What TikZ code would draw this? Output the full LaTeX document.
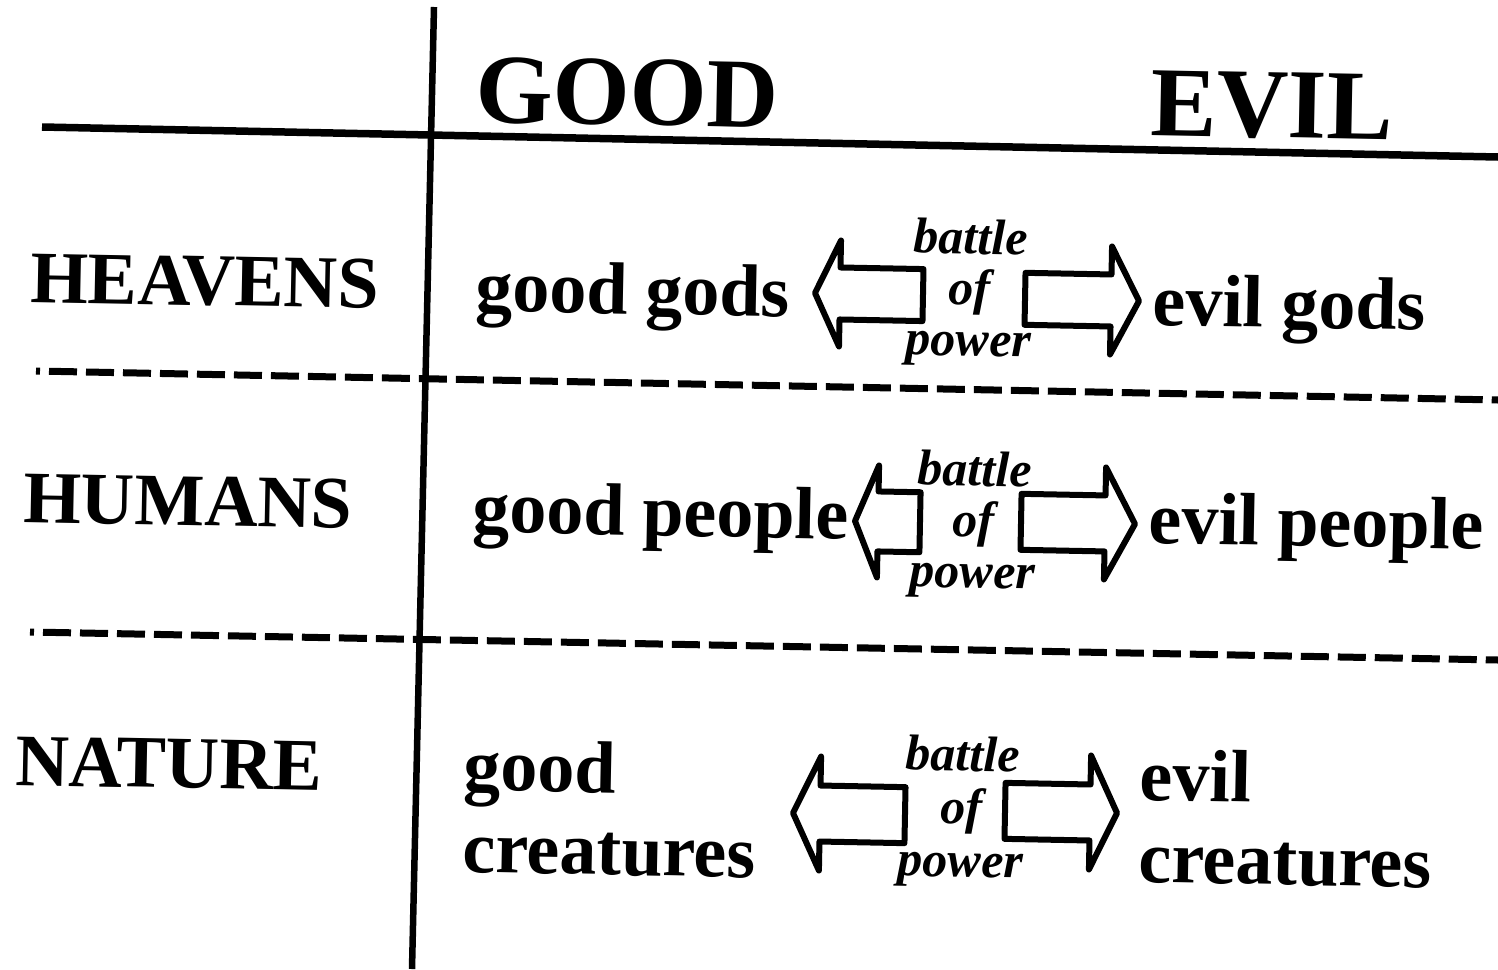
\documentclass[tikz,border=0pt]{standalone}
\usepackage{fontspec}
\setmainfont{Liberation Serif}
\tikzset{
  header/.style={font=\fontsize{99}{99}\selectfont\bfseries, anchor=base west, inner sep=0pt, rotate=-1.1},
  realm/.style={font=\fontsize{74}{74}\selectfont\bfseries, anchor=base west, inner sep=0pt, rotate=-1.1},
  side/.style={font=\fontsize{74}{82}\selectfont\bfseries, anchor=base west, inner sep=0pt, align=left, rotate=-1.1},
  battle/.style={font=\fontsize{50}{51}\selectfont\bfseries\itshape, anchor=north, inner sep=0pt, align=center, rotate=-1.1},
  fatarrow/.style={line width=6pt, line join=round},
  rule/.style={line width=6.5pt},
  split/.style={line width=7pt, dash pattern=on 28pt off 9pt, dash phase=24pt}
}
\begin{document}
\begin{tikzpicture}[x=1pt, y=-1pt]
\useasboundingbox (0,0) rectangle (1498,969);

% table rules
\coordinate (vtop) at (434,7);
\coordinate (vbot) at (412,969);
\coordinate (hleft) at (42,127);
\coordinate (hright) at (1498,157);
\coordinate (s1left) at (36,371);
\coordinate (s1right) at (1498,400);
\coordinate (s2left) at (30,632);
\coordinate (s2right) at (1498,660);
\draw[rule] (vtop) -- (vbot);
\draw[rule, line width=7.5pt] (hleft) -- (hright);
\draw[split] (s1left) -- (s1right);
\draw[split] (s2left) -- (s2right);

% headers
\node[header] (good) at (475,122) {GOOD};
\node[header] (evil) at (1150,135) {EVIL};

% realms
\node[realm] (heavens) at (30,302) {HEAVENS};
\node[realm] (humans) at (23,522) {HUMANS};
\node[realm] (nature) at (15,785) {NATURE};

% heavens row
\node[side] (goodgods) at (475,311) {good gods};
\node[side] (evilgods) at (1152,325) {evil gods};
\node[battle] (battle1) at (971,219) {battle\\of\\power};
\draw[fatarrow, shift={(815,293)}, rotate=-1.1] (0,0) -- (25,-53) -- (25,-26) -- (108,-26) -- (108,26) -- (25,26) -- (25,53) -- cycle;
\draw[fatarrow, shift={(1139,301)}, rotate=-1.1, xscale=-1] (0,0) -- (28,-54) -- (28,-26) -- (114,-26) -- (114,26) -- (28,26) -- (28,54) -- cycle;

% humans row
\node[side] (goodpeople) at (472,532) {good people};
\node[side] (evilpeople) at (1148,543) {evil people};
\node[battle] (battle2) at (975,451) {battle\\of\\power};
\draw[fatarrow, shift={(855,521)}, rotate=-1.1] (0,0) -- (23,-56) -- (23,-30) -- (65,-30) -- (65,30) -- (23,30) -- (23,56) -- cycle;
\draw[fatarrow, shift={(1135,524)}, rotate=-1.1, xscale=-1] (0,0) -- (30,-56) -- (30,-28) -- (114,-28) -- (114,28) -- (30,28) -- (30,56) -- cycle;

% nature row
\node[side] (goodcreatures) at (462,872) {good\\creatures};
\node[side] (evilcreatures) at (1138,882) {evil\\creatures};
\node[battle, font=\fontsize{50}{53}\selectfont\bfseries\itshape] (battle3) at (963,736) {battle\\of\\power};
\draw[fatarrow, shift={(793,813)}, rotate=-1.1] (0,0) -- (27,-57) -- (27,-28) -- (112,-28) -- (112,28) -- (27,28) -- (27,57) -- cycle;
\draw[fatarrow, shift={(1117,813)}, rotate=-1.1, xscale=-1] (0,0) -- (27,-57) -- (27,-28) -- (112,-28) -- (112,28) -- (27,28) -- (27,57) -- cycle;
\end{tikzpicture}
\end{document}
